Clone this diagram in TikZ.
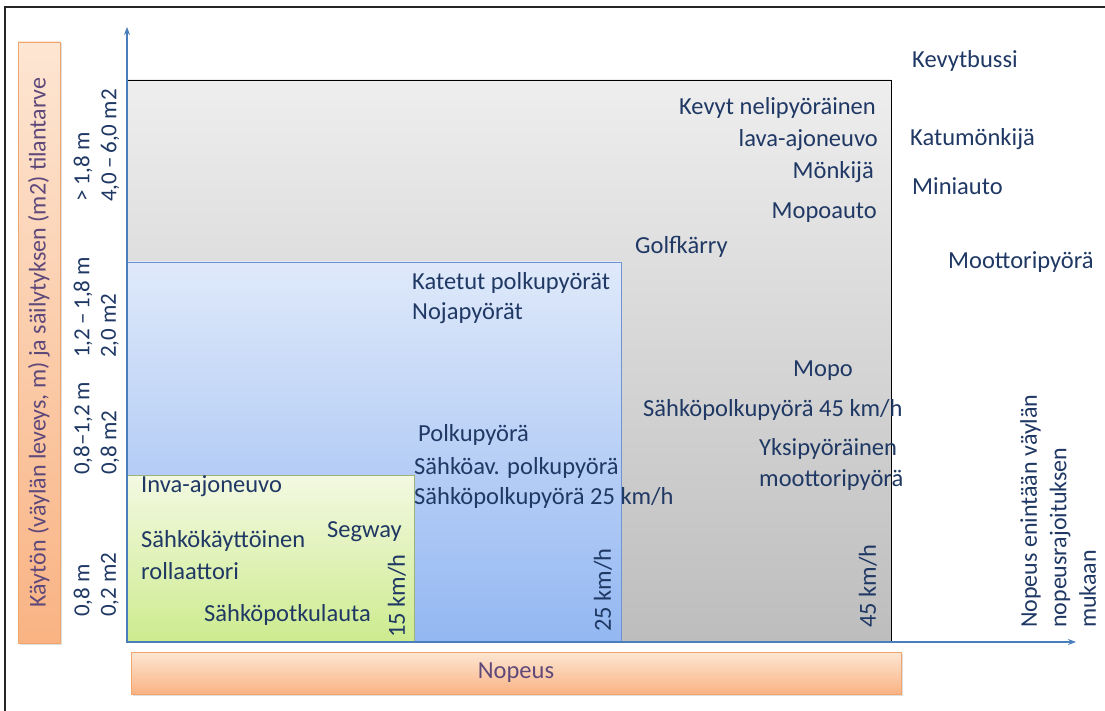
\documentclass[tikz,border=0pt]{standalone}
\usepackage{fontspec}
\setmainfont{Carlito}
\usepackage{xcolor}
\usepackage{tikz}
\usetikzlibrary{arrows.meta, positioning, shadows}
\definecolor{VehNavy}{HTML}{1F3864}
\definecolor{VehPurple}{HTML}{5F497A}
\definecolor{AxisBlue}{HTML}{4A7EBB}
\definecolor{OrangeTop}{HTML}{FDE6D3}
\definecolor{OrangeBot}{HTML}{F9B383}
\definecolor{OrangeEdge}{HTML}{F0A56C}
\definecolor{GrayTop}{HTML}{EEEEEE}
\definecolor{GrayBot}{HTML}{BDBDBD}
\definecolor{BlueTop}{HTML}{DFE9FA}
\definecolor{BlueBot}{HTML}{93B7F2}
\definecolor{BlueEdge}{HTML}{6F93CF}
\definecolor{GreenTop}{HTML}{F3F9E2}
\definecolor{GreenBot}{HTML}{CDEB8E}
\definecolor{GreenEdge}{HTML}{9FB27A}

\begin{document}
\begin{tikzpicture}[x=1pt, y=-1pt,
    lbl/.style={inner sep=0pt, text=VehNavy, font=\fontsize{24.5}{29}\selectfont},
    lw/.style={lbl, anchor=west},
    le/.style={lbl, anchor=east},
    vlbl/.style={lbl, rotate=90, anchor=west},
    sizelbl/.style={inner sep=0pt, rotate=90, anchor=west, text=VehNavy, font=\fontsize{23}{27}\selectfont},
    band/.style={
      draw=OrangeEdge, line width=0.8pt, top color=OrangeTop, bottom color=OrangeBot,
      drop shadow={opacity=0.25, shadow xshift=1.5pt, shadow yshift=-1.5pt},
      text=VehPurple, inner sep=0pt
    },
    axisline/.style={draw=AxisBlue, line width=2pt, {Stealth[length=8pt, width=6pt]}-{Stealth[length=8pt, width=6pt]}}
  ]
    \useasboundingbox (0,0) rectangle (1105,711);
    \fill[white] (0,0) rectangle (1105,711);
    \draw[line width=1.5pt, black!85] (5,711) -- (5,7) -- (1105,7);

    % speed classes
    \draw[black, line width=0.8pt, top color=GrayTop, bottom color=GrayBot] (127,80) rectangle (891,642);
    \draw[BlueEdge, line width=0.8pt, top color=BlueTop, bottom color=BlueBot] (127,262) rectangle (621,642);
    \draw[GreenEdge, line width=0.8pt, top color=GreenTop, bottom color=GreenBot] (127,475) rectangle (414,642);

    % bands
    \node[band, rotate=90, minimum width=601pt, minimum height=42pt, font=\fontsize{24}{28}\selectfont]
      (sizeband) at (39,342.5) {Käytön (väylän leveys, m) ja säilytyksen (m2) tilantarve};
    \node[band, minimum width=770pt, minimum height=42pt, font=\fontsize{24.5}{29}\selectfont]
      (speedband) at (516,673) {Nopeus};

    % axes
    \coordinate (origin) at (127,642);
    \coordinate (ytip) at (127,27);
    \coordinate (xtip) at (1076,642);
    \draw[axisline] (ytip) -- (origin) -- (xtip);

    % size classes
    \node[sizelbl] (w1) at (83,617) {0,8 m};
    \node[sizelbl] (w2) at (83,475) {0,8–1,2 m};
    \node[sizelbl] (w3) at (83,358) {1,2\,–\,1,8 m};
    \node[sizelbl] (w4) at (83,202) {> 1,8 m};
    \node[sizelbl] (a1) at (110,617) {0,2 m2};
    \node[sizelbl] (a2) at (110,475) {0,8 m2};
    \node[sizelbl] (a3) at (110,358) {2,0 m2};
    \node[sizelbl] (a4) at (110,202) {4,0\,–\,6,0 m2};

    % up to 15 km/h
    \node[lw] (inva) at (141,486) {Inva-ajoneuvo};
    \node[lw] (rolla) at (141,541) {Sähkökäyttöinen};
    \node[lw] (rollb) at (141,571) {rollaattori};
    \node[lw] (segway) at (327,532) {Segway};
    \node[lw] (potku) at (204,615) {Sähköpotkulauta};
    \node[vlbl] (v15) at (397,638) {15 km/h};

    % up to 25 km/h
    \node[lw] (katetut) at (412,283) {Katetut polkupyörät};
    \node[lw] (noja) at (412,313) {Nojapyörät};
    \node[lw] (polku) at (418,435) {Polkupyörä};
    \node[lw] (sahkoav) at (414,468) {Sähköav. polkupyörä};
    \node[lw] (sahko25) at (414,498) {Sähköpolkupyörä 25 km/h};
    \node[vlbl] (v25) at (603,632) {25 km/h};

    % up to 45 km/h
    \node[le] (nelia) at (876,108) {Kevyt nelipyöräinen};
    \node[le] (nelib) at (878,140) {lava-ajoneuvo};
    \node[le] (monkija) at (874,172) {Mönkijä};
    \node[le] (mopoauto) at (877,213) {Mopoauto};
    \node[lw] (golf) at (635,247) {Golfkärry};
    \node[lw] (mopo) at (793,371) {Mopo};
    \node[lw] (sahko45) at (643,410) {Sähköpolkupyörä 45 km/h};
    \node[lw] (yksia) at (759,449) {Yksipyöräinen};
    \node[lw] (yksib) at (759,480) {moottoripyörä};
    \node[vlbl] (v45) at (868,628) {45 km/h};

    % road speed limit
    \node[lw] (bussi) at (912,61) {Kevytbussi};
    \node[lw] (katum) at (910,139) {Katumönkijä};
    \node[lw] (mini) at (912,186) {Miniauto};
    \node[lw] (moottori) at (948,262) {Moottoripyörä};
    \node[lbl, rotate=90, anchor=north west, align=left, font=\fontsize{24}{29.5}\selectfont]
      (limit) at (1020,628) {Nopeus enintään väylän\\nopeusrajoituksen\\mukaan};
  \end{tikzpicture}
\end{document}
